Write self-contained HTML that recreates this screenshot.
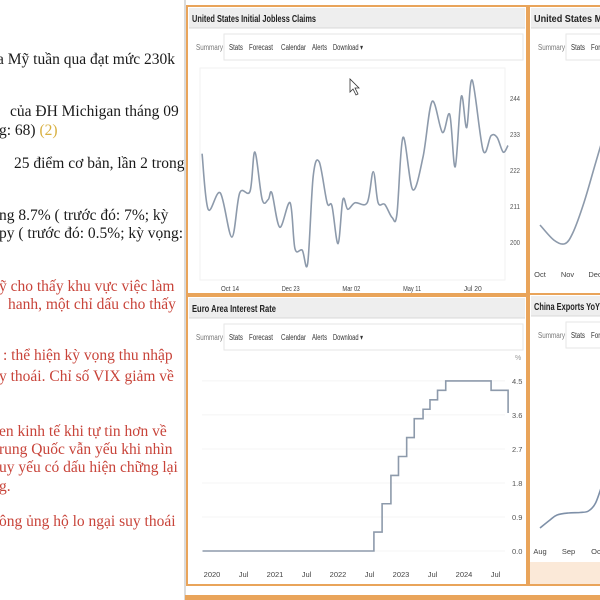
<!DOCTYPE html>
<html><head><meta charset="utf-8">
<style>
html,body{margin:0;padding:0;width:600px;height:600px;overflow:hidden;background:#fff;}
#wrap{position:relative;width:600px;height:600px;overflow:hidden;}
.tx{position:absolute;white-space:nowrap;font-family:"Liberation Serif","DejaVu Serif",serif;font-size:15.5px;color:#1a1a1a;}
.red{color:#c8443a;}
svg{position:absolute;left:0;top:0;}
</style></head>
<body>
<div id="wrap">
<div>
<div class="tx" style="left:-3px;top:51px">a Mỹ tuần qua đạt mức 230k</div>
<div class="tx" style="left:10px;top:103px">của ĐH Michigan tháng 09</div>
<div class="tx" style="left:-1px;top:122px">g: 68) <span style="color:#d8b040">(2)</span></div>
<div class="tx" style="left:14px;top:155px">25 điểm cơ bản, lần 2 trong</div>
<div class="tx" style="left:-1px;top:207px">ng 8.7% ( trước đó: 7%; kỳ</div>
<div class="tx" style="left:-1px;top:225px">py ( trước đó: 0.5%; kỳ vọng:</div>
<div class="tx red" style="left:-1px;top:278px">ỹ cho thấy khu vực việc làm</div>
<div class="tx red" style="left:8px;top:296px">hanh, một chỉ dấu cho thấy</div>
<div class="tx red" style="left:3px;top:347px">: thể hiện kỳ vọng thu nhập</div>
<div class="tx red" style="left:-1px;top:368px">y thoái. Chỉ số VIX giảm về</div>
<div class="tx red" style="left:-1px;top:423px">en kinh tế khi tự tin hơn về</div>
<div class="tx red" style="left:-1px;top:441px">rung Quốc vẫn yếu khi nhìn</div>
<div class="tx red" style="left:-1px;top:459px">uy yếu có dấu hiện chững lại</div>
<div class="tx red" style="left:-1px;top:478px">g.</div>
<div class="tx red" style="left:-1px;top:513px">ông ủng hộ lo ngại suy thoái</div>
</div>
<svg id="svg" width="600" height="600" xmlns="http://www.w3.org/2000/svg" font-family="Liberation Sans, sans-serif"></svg>
</div>
<script>
// Jobless claims (weeks since Oct 14, value in thousands)
const joblessWeeks = [-4.6,-3.6,-1.6,0.3,1.6,3.3,4.1,5.3,6.3,6.9,8.2,9.9,10.7,11.9,12.8,13.7,14.7,16.0,16.8,17.8,18.6,19.4,20.6,22.6,23.6,24.4,25.5,26.7,27.5,28.5,30.1,31.8,33.3,35.0,36.2,37.1,38.1,39.0,39.9,41.7,43.0,44.0,45.0,45.8];
const joblessValues = [227,210,215,201.5,215,215.5,227.5,213,213,215,204.5,212,198,197.5,193.5,220,224.5,212,211,199.5,213,210,212,212,221.5,212,211.5,207.5,208.5,232,216,226,243,233.5,239,223,244.5,235,249.5,228,232.5,232,227.5,229.5];
const joblessTickLabels = ["Oct 14","Dec 23","Mar 02","May 11","Jul 20"];
const joblessTickWeeks = [0,10,20,30,40];
const joblessYTicks = [200,211,222,233,244];
// Euro area interest rate (decimal year, %)
const euroDates = [2019.85,2022.57,2022.7,2022.84,2022.96,2023.09,2023.21,2023.35,2023.46,2023.58,2023.71,2024.43,2024.7];
const euroRates = [0,0.5,1.25,2.0,2.5,3.0,3.5,3.75,4.0,4.25,4.5,4.25,3.65];
const euroTickLabels = ["2020","Jul","2021","Jul","2022","Jul","2023","Jul","2024","Jul"];
const euroTickDates = [2020,2020.5,2021,2021.5,2022,2022.5,2023,2023.5,2024,2024.5];
const euroYTicks = [0,0.9,1.8,2.7,3.6,4.5];
// Michigan sentiment (partial, month index from Oct)
const michMonths = [0,0.5,0.9,1.2,1.6,2.0,2.4];
const michValues = [63,61,60.5,62,66,71,76];
const michTickLabels = ["Oct","Nov","Dec"];
// China exports yoy (partial)
const chinaMonths = [0,0.35,0.6,1.0,1.4,1.7,1.95,2.2];
const chinaValues = [2.0,3.6,4.6,5.0,5.1,5.4,7,11];
const chinaTickLabels = ["Aug","Sep","Oct"];

const S = document.getElementById('svg');
const NS = 'http://www.w3.org/2000/svg';
function mk(tag, attrs, parent){const e=document.createElementNS(NS,tag);for(const k in attrs)e.setAttribute(k,attrs[k]);(parent||S).appendChild(e);return e;}
function txt(x,y,s,size,fill,anchor,weight,parent,len){const a={x:x,y:y,'font-size':size,fill:fill,'text-anchor':anchor||'start','font-weight':weight||'normal'};if(len){a.textLength=len;a.lengthAdjust='spacingAndGlyphs';}const t=mk('text',a,parent);t.textContent=s;return t;}
function smooth(pts){let d='M'+pts[0][0]+','+pts[0][1];for(let i=0;i<pts.length-1;i++){const p0=pts[i-1]||pts[i],p1=pts[i],p2=pts[i+1],p3=pts[i+2]||p2;const c1x=p1[0]+(p2[0]-p0[0])/6,c1y=p1[1]+(p2[1]-p0[1])/6,c2x=p2[0]-(p3[0]-p1[0])/6,c2y=p2[1]-(p3[1]-p1[1])/6;d+=' C'+c1x+','+c1y+' '+c2x+','+c2y+' '+p2[0]+','+p2[1];}return d;}

function panel(name,x,y,w,h,title,titleLen,tabs){
  const g=mk('g',{});
  
  
  mk('rect',{x:x,y:y,width:w,height:h,fill:'#fff',stroke:'#e9a45a','stroke-width':2},g);
  mk('rect',{x:x+2,y:y+2,width:w-4,height:20,fill:'#eeeeee'},g);
  mk('line',{x1:x+2,y1:y+22,x2:x+w-2,y2:y+22,stroke:'#d8d8d8'},g);
  const t=txt(x+5,y+16,title,10,'#222','start','bold',g,titleLen);
  
  
  mk('rect',{x:x+37,y:y+28,width:w-41,height:26,fill:'#fff',stroke:'#e6e6e6'},g);
  const names=['Summary','Stats','Forecast','Calendar','Alerts','Download ▾'];
  const offs=[9,42,62,94,125,146];
  const lens=[27,14,24,25,15,30];
  for(let i=0;i<tabs;i++){const e=txt(x+offs[i],y+44,names[i],8,i==0?'#777':'#333','start','normal',g,lens[i]);
    
    }
  return g;
}

// ---- Jobless claims panel
const p1=panel('jobless-claims-panel',187,6,340,288,'United States Initial Jobless Claims',124,6);
mk('rect',{x:200,y:68,width:305,height:212,fill:'none',stroke:'#f2f2f2'},p1);
const jx=w=>230+w*6.07, jy=v=>242-(v-200)*3.27;
joblessYTicks.forEach(v=>{const e=txt(510,jy(v)+3,String(v),7.5,'#555','start','normal',p1,10);
  
  });
joblessTickWeeks.forEach((w,i)=>{const e=txt(jx(w),291,joblessTickLabels[i],7.5,'#444','middle','normal',p1,18);
  
  });
const jl=mk('path',{d:smooth(joblessWeeks.map((w,i)=>[jx(w),jy(joblessValues[i])])),fill:'none',stroke:'#8d9aab','stroke-width':1.6},p1);


const cur=mk('path',{d:'M350,79 L350,92 L353,89 L356,95 L358,94 L355,88 L359,88 Z',fill:'#fff',stroke:'#333','stroke-width':0.8},p1);



// ---- Euro interest rate panel
const p2=panel('euro-interest-rate-panel',187,296,340,289,'Euro Area Interest Rate',84,6);
const ex=d=>212+(d-2020)*63, ey=v=>551-v*37.8;
euroYTicks.forEach(v=>{mk('line',{x1:202,x2:505,y1:ey(v),y2:ey(v),stroke:'#f4f4f4'},p2);
  const e=txt(512,ey(v)+3,v.toFixed(1),7.5,'#555','start','normal',p2);
  
  });
txt(515,360,'%',7,'#999','start','normal',p2);
euroTickDates.forEach((d,i)=>{const e=txt(ex(d),577,euroTickLabels[i],7.5,'#444','middle','normal',p2);
  
  });
let ed='M'+ex(euroDates[0])+','+ey(euroRates[0]);
for(let i=1;i<euroDates.length;i++){ed+=' H'+ex(euroDates[i])+' V'+ey(euroRates[i]);}
const el=mk('path',{d:ed,fill:'none',stroke:'#8d9aab','stroke-width':1.6},p2);



// ---- Michigan panel (clipped)
const p3=panel('michigan-panel',529,6,80,288,'United States Michigan',100,3);
const mx=m=>540+m*27.5, my=v=>225-(v-63)*7.5;
michTickLabels.forEach((s,i)=>{const e=txt(mx(i),277,s,7.5,'#444','middle','normal',p3);
  
  });
const ml=mk('path',{d:smooth(michMonths.map((m,i)=>[mx(m),my(michValues[i])])),fill:'none',stroke:'#8d9aab','stroke-width':1.6},p3);



// ---- China exports panel (clipped)
const p4=panel('china-exports-panel',529,294,80,291,'China Exports YoY',66,3);
const cx=m=>540+m*28.5, cy=v=>528-(v-2)*5;
chinaTickLabels.forEach((s,i)=>{const e=txt(cx(i),554,s,7.5,'#444','middle','normal',p4);
  
  });
const cl=mk('path',{d:smooth(chinaMonths.map((m,i)=>[cx(m),cy(chinaValues[i])])),fill:'none',stroke:'#7e90a8','stroke-width':1.6},p4);


mk('rect',{x:530,y:562,width:70,height:22,fill:'#fbe9d8'},p4);

// frame
const fr=mk('g',{});


mk('line',{x1:185,y1:0,x2:185,y2:600,stroke:'#cfcfcf','stroke-width':1.5},fr);
mk('rect',{x:185,y:595,width:415,height:5,fill:'#e9a45a'},fr);
</script>
</body></html>
